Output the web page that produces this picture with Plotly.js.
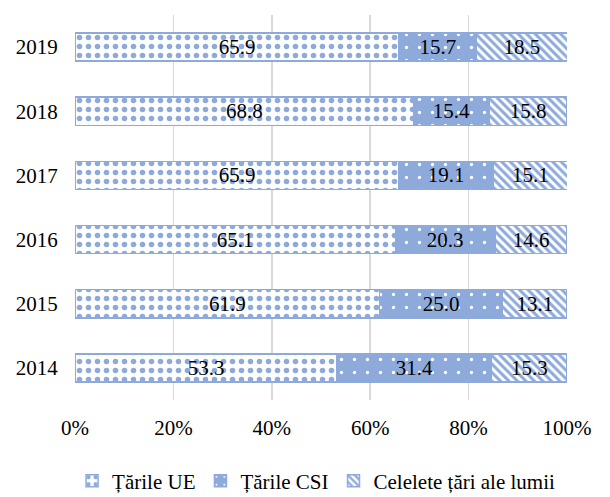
<!DOCTYPE html>
<html>
<head>
<meta charset="utf-8">
<script src="https://cdn.plot.ly/plotly-3.0.1.min.js"></script>
<style>html,body{margin:0;padding:0;background:#fff}</style>
</head>
<body>
<div id="chart" style="width:610px;height:497px"></div>
<script>
const years = ["2014", "2015", "2016", "2017", "2018", "2019"];
const seriesNames = ["Țările UE", "Țările CSI", "Celelete țări ale lumii"];
const ue = [53.3, 61.9, 65.1, 65.9, 68.8, 65.9];
const csi = [31.4, 25.0, 20.3, 19.1, 15.4, 15.7];
const other = [15.3, 13.1, 14.6, 15.1, 15.8, 18.5];
const xTickVals = [0, 20, 40, 60, 80, 100];
const xTickText = ["0%", "20%", "40%", "60%", "80%", "100%"];

const blue = "#8eaadb";
const font = "Liberation Serif";
const fs = 21;

function mk(name, vals, pattern) {
  return {
    type: "bar", orientation: "h", name: name,
    y: years, x: vals,
    text: vals.map(v => v.toFixed(1)),
    textposition: "inside", insidetextanchor: "middle",
    textfont: {family: font, size: fs, color: "#000"},
    constraintext: "none",
    hoverinfo: "none",
    marker: {color: blue, line: {color: blue, width: 1.5}, pattern: pattern}
  };
}

const data = [
  mk(seriesNames[0], ue, {shape: ".", fgcolor: blue, bgcolor: "#ffffff", size: 9, solidity: 0.3, fillmode: "replace"}),
  mk(seriesNames[1], csi, {shape: ".", fgcolor: "#ffffff", bgcolor: blue, size: 13, solidity: 0.05, fillmode: "replace"}),
  mk(seriesNames[2], other, {shape: "\\", fgcolor: blue, bgcolor: "#ffffff", size: 6, solidity: 0.5, fillmode: "replace"})
];

const layout = {
  width: 610, height: 497,
  margin: {l: 75, r: 43, t: 15, b: 97},
  barmode: "stack", bargap: 0.56,
  paper_bgcolor: "#fff", plot_bgcolor: "#fff",
  font: {family: font, size: fs, color: "#000"},
  xaxis: {
    range: [0, 100], tickvals: xTickVals, ticktext: xTickText,
    showgrid: true, gridcolor: "#d9d9d9", gridwidth: 1.5, zeroline: false,
    ticks: "outside", ticklen: 9, tickcolor: "rgba(0,0,0,0)",
    tickfont: {family: font, size: fs, color: "#000"}, fixedrange: true
  },
  yaxis: {
    type: "category", categoryorder: "array", categoryarray: years,
    showgrid: false, zeroline: false, showline: false,
    ticks: "outside", ticklen: 12, tickcolor: "rgba(0,0,0,0)",
    tickfont: {family: font, size: fs, color: "#000"}, fixedrange: true
  },
  showlegend: true,
  legend: {
    orientation: "h", xref: "paper", x: 0.49, xanchor: "center",
    yref: "container", y: 0.032, yanchor: "middle",
    font: {family: font, size: fs, color: "#000"}, traceorder: "normal",
    itemwidth: 30, bgcolor: "rgba(0,0,0,0)"
  }
};

Plotly.newPlot("chart", data, layout, {displayModeBar: false, staticPlot: true});
</script>
</body>
</html>
